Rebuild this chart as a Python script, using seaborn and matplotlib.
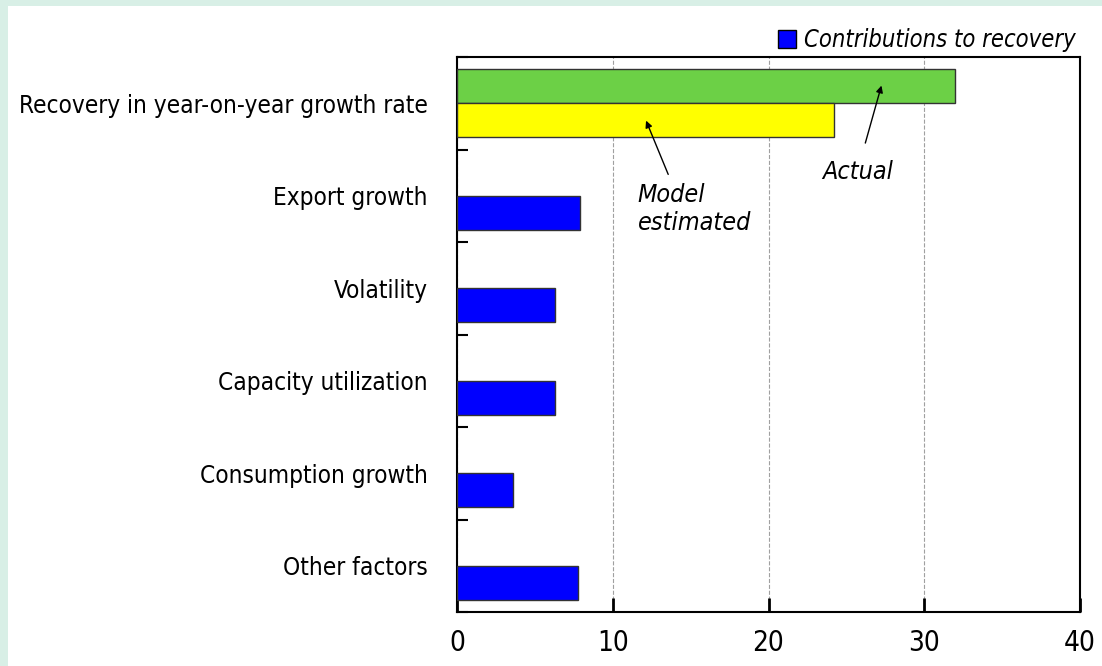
import matplotlib
matplotlib.use("Agg")
import matplotlib.pyplot as plt
import matplotlib.patches as mpatches
import numpy as np
import pandas as pd
import seaborn as sns

# Data
categories = ['Recovery in year-on-year growth rate', 'Export growth', 'Volatility',
              'Capacity utilization', 'Consumption growth', 'Other factors']
actual_values = [32.0]
estimated_values = [24.2, 7.9, 6.3, 6.3, 3.6, 7.8]
x_ticks = [0, 10, 20, 30, 40]

df = pd.DataFrame({
    'category': [categories[0]] + categories,
    'series': ['Actual'] + ['Estimated'] * len(categories),
    'value': actual_values + estimated_values,
})

sns.set_style("white")
plt.rcParams['font.family'] = ['DejaVu Sans']
plt.rcParams['font.stretch'] = 'condensed'
plt.rcParams['text.color'] = 'black'
plt.rcParams['xtick.color'] = 'black'
plt.rcParams['ytick.color'] = 'black'
plt.rcParams['xtick.bottom'] = True
plt.rcParams['ytick.left'] = True

fig = plt.figure(figsize=(11.02, 6.66), dpi=100)
fig.patch.set_facecolor('#d8efe6')
fig.add_artist(mpatches.Rectangle((8 / 1102, 0), 1, 1 - 6 / 666, transform=fig.transFigure,
                                  facecolor='white', edgecolor='none', zorder=-10))
ax = fig.add_axes([457 / 1102, 1 - 612 / 666, 623 / 1102, 555 / 666])

sns.barplot(data=df, y='category', x='value', hue='series', order=categories,
            hue_order=['Actual', 'Estimated'], orient='h', width=0.74, dodge=True,
            palette={'Actual': '#6cd046', 'Estimated': '#0000ff'}, saturation=1,
            edgecolor='#333333', linewidth=1, legend=False, ax=ax, zorder=3)
# верхний столбец модели жёлтый
ax.containers[1][0].set_facecolor('#ffff00')

ax.set_xlim(0, 40)
ax.set_ylim(5.5, -0.5)
ax.set_xticks(x_ticks)
ax.set_xticklabels([str(t) for t in x_ticks], fontsize=20)
ax.tick_params(axis='x', which='major', bottom=True, direction='in', length=10, width=2, pad=12)
ax.set_yticks(range(len(categories)))
ax.set_yticklabels(categories, fontsize=17.5)
ax.tick_params(axis='y', which='major', left=True, length=0, pad=21)
ax.set_yticks(np.arange(-0.5, len(categories), 1), minor=True)
ax.tick_params(axis='y', which='minor', left=True, direction='in', length=8, width=1.5)
ax.set_xlabel('')
ax.set_ylabel('')

ax.xaxis.grid(True, linestyle='--', color='#a0a0a0', linewidth=0.8, zorder=0)
ax.yaxis.grid(False)
for side in ['left', 'bottom', 'top', 'right']:
    ax.spines[side].set_visible(True)
    ax.spines[side].set_color('black')
    ax.spines[side].set_linewidth(1.5)

# Подписи со стрелками
ax.annotate('Actual', xy=(27.3, -0.22), xytext=(25.7, 0.74),
            fontsize=18, fontstyle='italic', ha='center', va='center',
            arrowprops=dict(arrowstyle='-|>', color='black', lw=1, shrinkA=10, mutation_scale=10))
ax.annotate('Model\nestimated', xy=(12.07, 0.16), xytext=(11.6, 1.14),
            fontsize=18, fontstyle='italic', ha='left', va='center', linespacing=1.2,
            arrowprops=dict(arrowstyle='-|>', color='black', lw=1, mutation_scale=10,
                            relpos=(0.3, 1.0), shrinkA=4))

handle = mpatches.Patch(facecolor='#0000ff', edgecolor='black', label='Contributions to recovery')
ax.legend(handles=[handle], loc='lower right', bbox_to_anchor=(1.0, 1.0), frameon=False,
          prop={'size': 17, 'style': 'italic', 'stretch': 'condensed'},
          handlelength=0.8, handleheight=0.8, handletextpad=0.3, borderpad=0.1, borderaxespad=0.1)

fig.savefig('out.png', dpi=100, facecolor=fig.get_facecolor())
